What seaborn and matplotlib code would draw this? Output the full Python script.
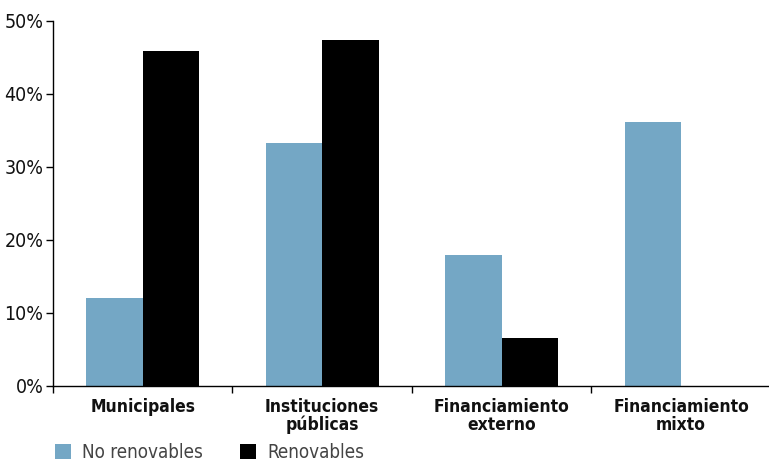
import matplotlib
matplotlib.use("Agg")
import matplotlib.pyplot as plt
import seaborn as sns
import pandas as pd
from matplotlib.ticker import FixedLocator, PercentFormatter
from matplotlib.patches import Patch

categories = ["Municipales", "Instituciones\npúblicas", "Financiamiento\nexterno", "Financiamiento\nmixto"]
series_names = ["No renovables", "Renovables"]
no_renovables = [12.1, 33.3, 18.0, 36.2]
renovables = [45.9, 47.4, 6.6, 0.0]
yticks = [0, 10, 20, 30, 40, 50]

df = pd.DataFrame({
    "cat": categories * 2,
    "serie": [series_names[0]] * 4 + [series_names[1]] * 4,
    "val": no_renovables + renovables,
})

sns.set_theme(style="white")
plt.rcParams['font.family'] = ['DejaVu Sans']
plt.rcParams['font.stretch'] = 'condensed'

colors = {"No renovables": "#74a7c5", "Renovables": "#000000"}

fig = plt.figure(figsize=(7.69, 4.65), dpi=100)
ax = fig.add_axes([0.069, 0.170, 0.931, 0.785])
sns.barplot(data=df, x="cat", y="val", hue="serie", palette=colors, width=0.63, saturation=1,
            linewidth=0, ax=ax, legend=False, order=categories, hue_order=series_names)

ax.set_ylim(0, 50)
ax.set_xlim(-0.5, 3.49)
ax.yaxis.set_major_locator(FixedLocator(yticks))
ax.yaxis.set_major_formatter(PercentFormatter(decimals=0))
ax.set_xlabel("")
ax.set_ylabel("")
for s in ["top", "right"]:
    ax.spines[s].set_visible(False)
for s in ["left", "bottom"]:
    ax.spines[s].set_color("black")
    ax.spines[s].set_linewidth(1.0)

ax.tick_params(axis="y", which="major", direction="out", length=5, width=1, color="black",
               left=True, labelsize=14, pad=2, labelcolor="#111111")
ax.set_xticks(range(len(categories)))
ax.set_xticklabels(categories, fontsize=12.5, fontweight="bold", linespacing=0.95)
ax.tick_params(axis="x", which="major", length=0, pad=9, labelcolor="#111111")
ax.xaxis.set_minor_locator(FixedLocator([-0.5, 0.5, 1.5, 2.5]))
ax.tick_params(axis="x", which="minor", bottom=True, direction="out", length=5, width=1, color="black")

handles = [Patch(facecolor=colors[n], edgecolor="none") for n in series_names]
fig.legend(handles, series_names, loc="lower left", bbox_to_anchor=(0.069, 0.002), ncol=2,
           frameon=False, fontsize=13.5, handlelength=0.85, handleheight=0.85,
           borderpad=0.1, borderaxespad=0.0,
           handletextpad=0.6, columnspacing=2.0, labelcolor="#444444")

fig.savefig("out.png", dpi=100)
